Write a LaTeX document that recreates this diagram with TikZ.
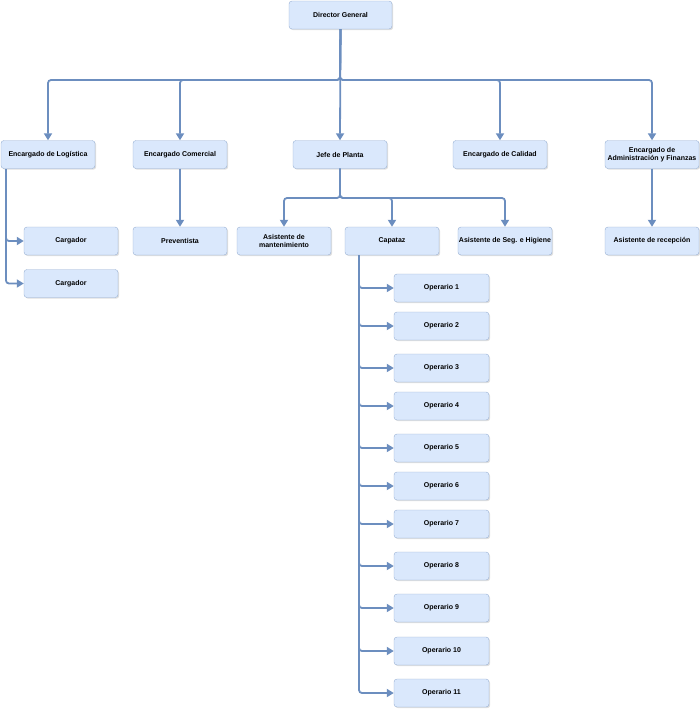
\documentclass[tikz,border=0pt]{standalone}
\usepackage{fontspec}
\setmainfont{Liberation Sans}
\usetikzlibrary{arrows.meta,shadows}

\definecolor{boxfill}{HTML}{DAE8FC}
\definecolor{boxline}{HTML}{6C8EBF}

\begin{document}
\begin{tikzpicture}[x=1pt, y=-1pt,
    >={Triangle[length=7pt,width=8pt]},
    box/.style = {
      draw = boxline!70,
      fill = boxfill,
      rounded corners = 3pt,
      minimum width = 94pt,
      minimum height = 28pt,
      inner sep = 1pt,
      align = center,
      font = \bfseries\fontsize{7}{8.5}\selectfont,
      drop shadow = {shadow xshift=1.2pt, shadow yshift=-1.2pt, opacity=0.25}
    },
    link/.style = {
      draw = boxline,
      line width = 1.8pt,
      rounded corners = 3pt,
      ->
    }
  ]
  \useasboundingbox (0,0) rectangle (700,710);

  \node[box, minimum width=103pt] (dg) at (340.5,15) {Director General};

  \node[box] (log)   at (48,154.5)  {Encargado de Logística};
  \node[box] (com)   at (180,154.5) {Encargado Comercial};
  \node[box] (jefe)  at (340,154.5) {Jefe de Planta};
  \node[box] (cal)   at (500,154.5) {Encargado de Calidad};
  \node[box] (adm)   at (652,154.5) {Encargado de\\Administración y Finanzas};

  \node[box] (carg1) at (71,241)    {Cargador};
  \node[box] (carg2) at (71,283.5)  {Cargador};
  \node[box] (prev)  at (180,241)   {Preventista};
  \node[box] (mant)  at (284,241)   {Asistente de\\mantenimiento};
  \node[box] (cap)   at (392,241)   {Capataz};
  \node[box] (seg)   at (505,241)   {Asistente de Seg. e Higiene};
  \node[box] (rec)   at (652,241)   {Asistente de recepción};

  \node[box, minimum width=95pt] (op1)  at (441.5,288) {Operario 1};
  \node[box, minimum width=95pt] (op2)  at (441.5,326) {Operario 2};
  \node[box, minimum width=95pt] (op3)  at (441.5,368) {Operario 3};
  \node[box, minimum width=95pt] (op4)  at (441.5,406) {Operario 4};
  \node[box, minimum width=95pt] (op5)  at (441.5,448) {Operario 5};
  \node[box, minimum width=95pt] (op6)  at (441.5,486) {Operario 6};
  \node[box, minimum width=95pt] (op7)  at (441.5,524) {Operario 7};
  \node[box, minimum width=95pt] (op8)  at (441.5,566) {Operario 8};
  \node[box, minimum width=95pt] (op9)  at (441.5,608) {Operario 9};
  \node[box, minimum width=95pt] (op10) at (441.5,651) {Operario 10};
  \node[box, minimum width=95pt] (op11) at (441.5,693) {Operario 11};

  \coordinate (bus1) at (340,80);
  \coordinate (bus2) at (340,198);
  \coordinate (logbase) at (6,169);
  \coordinate (capbase) at (359,255);

  % director general
  \draw[link] (dg.south) -- (bus1) -| (log.north);
  \draw[link] (dg.south) -- (bus1) -| (com.north);
  \draw[link] (dg.south) -- (jefe.north);
  \draw[link] (dg.south) -- (bus1) -| (cal.north);
  \draw[link] (dg.south) -- (bus1) -| (adm.north);

  % jefe de planta
  \draw[link] (jefe.south) -- (bus2) -| (mant.north);
  \draw[link] (jefe.south) -- (bus2) -| (cap.north);
  \draw[link] (jefe.south) -- (bus2) -| (seg.north);

  \draw[link] (com.south) -- (prev.north);
  \draw[link] (adm.south) -- (rec.north);

  \draw[link] (logbase) |- (carg1.west);
  \draw[link] (logbase) |- (carg2.west);

  % capataz
  \draw[link] (capbase) |- (op1.west);
  \draw[link] (capbase) |- (op2.west);
  \draw[link] (capbase) |- (op3.west);
  \draw[link] (capbase) |- (op4.west);
  \draw[link] (capbase) |- (op5.west);
  \draw[link] (capbase) |- (op6.west);
  \draw[link] (capbase) |- (op7.west);
  \draw[link] (capbase) |- (op8.west);
  \draw[link] (capbase) |- (op9.west);
  \draw[link] (capbase) |- (op10.west);
  \draw[link] (capbase) |- (op11.west);
\end{tikzpicture}
\end{document}
